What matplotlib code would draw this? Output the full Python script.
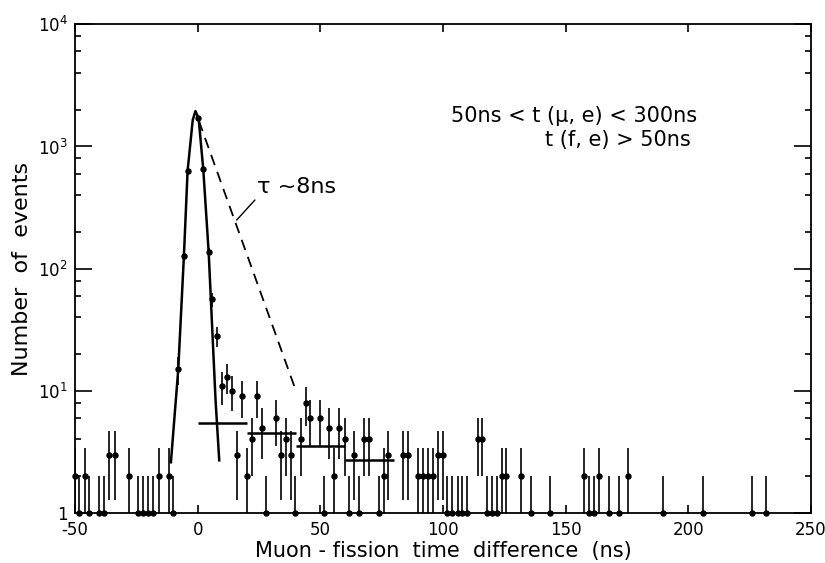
import numpy as np
import matplotlib
matplotlib.use("Agg")
import matplotlib.pyplot as plt
from matplotlib.ticker import FixedLocator, NullFormatter

# histogram: bin position (ns) and number of events
time_ns = [-50, -48.4, -45.9, -44.3, -40.2, -38, -36, -33.8, -27.9, -24.5,
           -22.4, -20.4, -18.1, -15.9, -11.7, -9.9, -7.9, -5.6, -4.1, 0.2,
           2.3, 4.5, 5.7, 8.0, 10.0, 11.8, 13.9, 16.0, 17.9, 20,
           22, 24, 26.1, 27.9, 31.8, 34, 35.9, 38, 39.8, 42.1,
           44, 45.9, 49.9, 51.5, 53.7, 55.7, 57.7, 60, 61.8, 63.9,
           65.7, 67.8, 69.8, 73.9, 75.9, 77.8, 83.7, 85.8, 89.7, 91.9,
           93.9, 95.9, 98, 100, 101.7, 103.8, 106.2, 107.9, 109.8, 114.1,
           116.1, 117.8, 119.8, 121.9, 123.9, 125.9, 131.9, 135.9, 143.7, 157.6,
           159.6, 161.7, 163.7, 167.7, 171.7, 175.6, 189.8, 205.9, 225.8, 231.6]
events = [2, 1, 2, 1, 1, 1, 3, 3, 2, 1,
          1, 1, 1, 2, 2, 1, 15, 127, 630, 1700,
          650, 136, 56, 28, 11, 13, 10, 3, 9, 2,
          4, 9, 5, 1, 6, 3, 4, 3, 1, 4,
          8, 6, 6, 1, 5, 2, 5, 4, 1, 3,
          1, 4, 4, 1, 2, 3, 3, 3, 2, 2,
          2, 2, 3, 3, 1, 1, 1, 1, 1, 4,
          4, 1, 1, 1, 2, 2, 2, 1, 1, 2,
          1, 1, 2, 1, 1, 2, 1, 1, 1, 1]

# prompt peak fit (solid line)
peak_x = [-10.9, -7.9, -5.6, -4.1, -2.0, -0.9, 0.4, 2.3, 4.5, 7.3, 8.8]
peak_y = [2.6, 15, 127, 630, 1650, 1950, 1700, 648, 136, 8.4, 2.7]

# tau ~ 8 ns expectation (dashed line)
decay_x = [0.5, 39.7]
decay_y = [1620, 10.5]

# flat background levels
bg_lo = [0, 20, 40, 60]
bg_hi = [20, 40, 60, 80]
bg_level = [5.5, 4.5, 3.53, 2.7]

x_ticks = [-50, 0, 50, 100, 150, 200, 250]
y_ticks = [1, 10, 100, 1000, 10000]
y_tick_labels = ["1", "$10^1$", "$10^2$", "$10^3$", "$10^4$"]

plt.rcParams['font.family'] = ['DejaVu Sans']

fig = plt.figure(figsize=(8.25, 5.63), dpi=100)
ax = fig.add_axes([0.0909, 0.0888, 0.892, 0.868])

t = np.array(time_ns)
n = np.array(events, dtype=float)
err_up = np.sqrt(n)
err_lo = np.minimum(np.sqrt(n), n - 0.3)

ax.errorbar(t, n, yerr=[err_lo, err_up], fmt='none', ecolor='black',
            elinewidth=1.2, capsize=0)
ax.plot(t, n, 'o', color='black', markersize=3.6, clip_on=False, zorder=3)

ax.plot(peak_x, peak_y, '-', color='black', lw=1.8)
ax.plot(decay_x, decay_y, '--', color='black', lw=1.3, dashes=(6, 4))
ax.hlines(bg_level, bg_lo, bg_hi, color='black', lw=1.8)

ax.set_yscale('log')
ax.set_xlim(-50, 250)
ax.set_ylim(1, 10000)

ax.set_xticks(x_ticks)
ax.set_xticklabels([str(v) for v in x_ticks])
ax.set_yticks(y_ticks)
ax.set_yticklabels(y_tick_labels)
ax.yaxis.set_minor_locator(FixedLocator(
    [k * 10 ** d for d in range(4) for k in (2, 4, 6, 8)]))
ax.yaxis.set_minor_formatter(NullFormatter())
ax.xaxis.set_minor_locator(FixedLocator([]))

ax.tick_params(axis='both', which='both', direction='in', top=True, right=True,
               labelsize=12, width=1.2)
ax.tick_params(axis='x', which='major', length=6, pad=6)
ax.tick_params(axis='y', which='major', length=12, pad=5)
ax.tick_params(axis='y', which='minor', length=4.5)
for sp in ax.spines.values():
    sp.set_linewidth(1.3)

ax.set_xlabel("Muon - fission  time  difference  (ns)", fontsize=15, labelpad=1)
ax.set_ylabel("Number  of  events", fontsize=16, labelpad=4)

ax.text(0.846, 0.812, "50ns < t (μ, e) < 300ns", transform=ax.transAxes,
        ha='right', va='center', fontsize=15)
ax.text(0.837, 0.763, "t (f, e) > 50ns", transform=ax.transAxes,
        ha='right', va='center', fontsize=15)

ax.annotate("τ ~8ns", xy=(15.9, 250), xytext=(24.2, 464), fontsize=16,
            ha='left', va='center',
            arrowprops=dict(arrowstyle='-', color='black', lw=1.0,
                            shrinkA=0, shrinkB=0, relpos=(0.04, 0.15)))

fig.savefig("out.png", dpi=100)
